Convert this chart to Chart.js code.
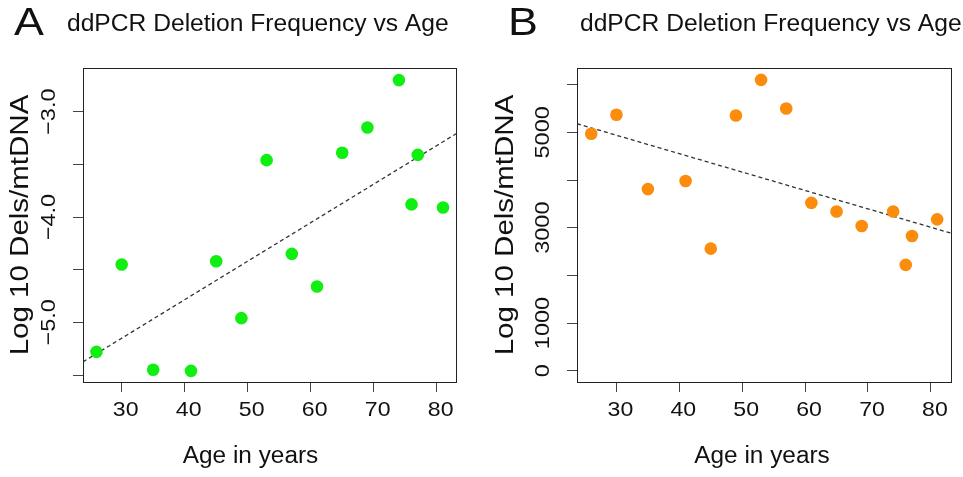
<!DOCTYPE html>
<html lang="en">
<head>
  <meta charset="UTF-8">
  <title>ddPCR Deletion Frequency vs Age</title>
  <script src="https://cdn.jsdelivr.net/npm/chart.js@4"></script>
  <style>
    body { margin: 0; background: #fff; }
    .panel { position: absolute; top: 0; }
  </style>
</head>
<body>
  <canvas id="chartA" class="panel" style="left:0" width="481" height="477"></canvas>
  <canvas id="chartB" class="panel" style="left:481px" width="482" height="477"></canvas>

  <script>
    // ages are the same for both panels
    const ages = [26, 30, 35, 41, 45, 49, 53, 57, 61, 65, 69, 74, 76, 77, 81];

    // panel A: log10 dels/mtDNA
    const logDels = [-5.28, -4.45, -5.45, -5.46, -4.42, -4.96, -3.46, -4.35, -4.66, -3.39, -3.15, -2.70, -3.88, -3.41, -3.91];
    const trendA = [[23.86, -5.375], [83.06, -3.21]];
    const yTicksA = [-5.5, -5.0, -4.5, -4.0, -3.5, -3.0];
    const yLabelsA = { '-5': '\u22125.0', '-4': '\u22124.0', '-3': '\u22123.0' };

    // panel B: dels/mtDNA
    const dels = [4970, 5370, 3810, 3980, 2560, 5355, 6100, 5500, 3520, 3340, 3035, 3340, 2220, 2825, 3175];
    const trendB = [[23.73, 5181], [83.2, 2885]];
    const yTicksB = [0, 1000, 2000, 3000, 4000, 5000, 6000];
    const yLabelsB = { '0': '0', '1000': '1000', '3000': '3000', '5000': '5000' };

    const xTicks = [30, 40, 50, 60, 70, 80];
    const font = "'Liberation Sans', Arial, sans-serif";

    // text a bit wider than Liberation Sans, like the original figure
    function text(ctx, str, x, y, size, opts) {
      opts = opts || {};
      ctx.save();
      ctx.font = size + 'px ' + font;
      ctx.fillStyle = '#111';
      ctx.textAlign = opts.align || 'center';
      ctx.textBaseline = opts.baseline || 'middle';
      ctx.translate(x, y);
      if (opts.rot) ctx.rotate(opts.rot);
      ctx.scale(opts.sx || 1, 1);
      ctx.fillText(str, 0, 0);
      ctx.restore();
    }

    function panelPlugin(cfg) {
      return {
        id: 'panel' + cfg.letter,
        afterDraw(chart) {
          const ctx = chart.ctx, a = chart.chartArea;
          const xs = chart.scales.x, ys = chart.scales.y;
          ctx.save();
          ctx.strokeStyle = '#222';
          ctx.lineWidth = 1;
          ctx.strokeRect(a.left + 0.5, a.top + 0.5, a.right - a.left, a.bottom - a.top);
          ctx.restore();

          text(ctx, cfg.letter, cfg.letterX, 35, 38, { align: 'left', baseline: 'alphabetic', sx: 1.18 });
          text(ctx, 'ddPCR Deletion Frequency vs Age', cfg.titleX, 31, 23, { align: 'left', baseline: 'alphabetic', sx: 1.07 });

          xTicks.forEach(v => {
            text(ctx, String(v), xs.getPixelForValue(v) + 4, 410, 21, { sx: 1.1 });
          });
          Object.keys(cfg.yLabels).forEach(v => {
            text(ctx, cfg.yLabels[v], a.left - 34, ys.getPixelForValue(Number(v)), 21, { rot: -Math.PI / 2, sx: 1.12 });
          });

          text(ctx, 'Age in years', (a.left + a.right) / 2 + cfg.xTitleShift, 457, 23, { sx: 1.06 });
          text(ctx, 'Log 10 Dels/mtDNA', cfg.yTitleX, (a.top + a.bottom) / 2, 25, { rot: -Math.PI / 2, sx: 1.18 });
        }
      };
    }

    function makePanel(id, cfg) {
      const pts = ages.map((x, i) => ({ x: x, y: cfg.values[i] }));
      new Chart(document.getElementById(id), {
        type: 'scatter',
        data: {
          datasets: [
            {
              data: pts,
              backgroundColor: cfg.color,
              borderWidth: 0,
              pointRadius: 6.3,
              pointHoverRadius: 6.3
            },
            {
              type: 'line',
              data: cfg.trend.map(p => ({ x: p[0], y: p[1] })),
              borderColor: '#333',
              borderWidth: 1.3,
              borderDash: [4, 3],
              pointRadius: 0,
              fill: false
            }
          ]
        },
        options: {
          responsive: false,
          animation: false,
          layout: { padding: { left: 0, top: cfg.top, right: cfg.right, bottom: 0 } },
          plugins: { legend: { display: false }, tooltip: { enabled: false } },
          scales: {
            x: {
              type: 'linear',
              min: cfg.xmin, max: cfg.xmax,
              afterFit: s => { s.height = 477 - cfg.bottom; },
              afterBuildTicks: s => { s.ticks = xTicks.map(v => ({ value: v })); },
              grid: { drawOnChartArea: false, drawTicks: true, tickLength: 10, color: '#444', lineWidth: 1 },
              border: { display: false },
              ticks: { display: false }
            },
            y: {
              min: cfg.ymin, max: cfg.ymax,
              afterFit: s => { s.width = cfg.left; },
              afterBuildTicks: s => { s.ticks = cfg.yTicks.map(v => ({ value: v })); },
              grid: { drawOnChartArea: false, drawTicks: true, tickLength: 10, color: '#444', lineWidth: 1 },
              border: { display: false },
              ticks: { display: false }
            }
          }
        },
        plugins: [panelPlugin(cfg)]
      });
    }

    makePanel('chartA', {
      letter: 'A', letterX: 14, titleX: 67, xTitleShift: -19, yTitleX: 21,
      values: logDels, trend: trendA, color: '#11ee11',
      xmin: 23.86, xmax: 83.06, ymin: -5.566, ymax: -2.585,
      yTicks: yTicksA, yLabels: yLabelsA,
      left: 83, top: 68, right: 25, bottom: 382
    });

    makePanel('chartB', {
      letter: 'B', letterX: 27, titleX: 99, xTitleShift: -2, yTitleX: 25,
      values: dels, trend: trendB, color: '#fb8c0c',
      xmin: 23.73, xmax: 83.2, ymin: -237, ymax: 6350,
      yTicks: yTicksB, yLabels: yLabelsB,
      left: 96, top: 68, right: 12, bottom: 382
    });
  </script>
</body>
</html>
